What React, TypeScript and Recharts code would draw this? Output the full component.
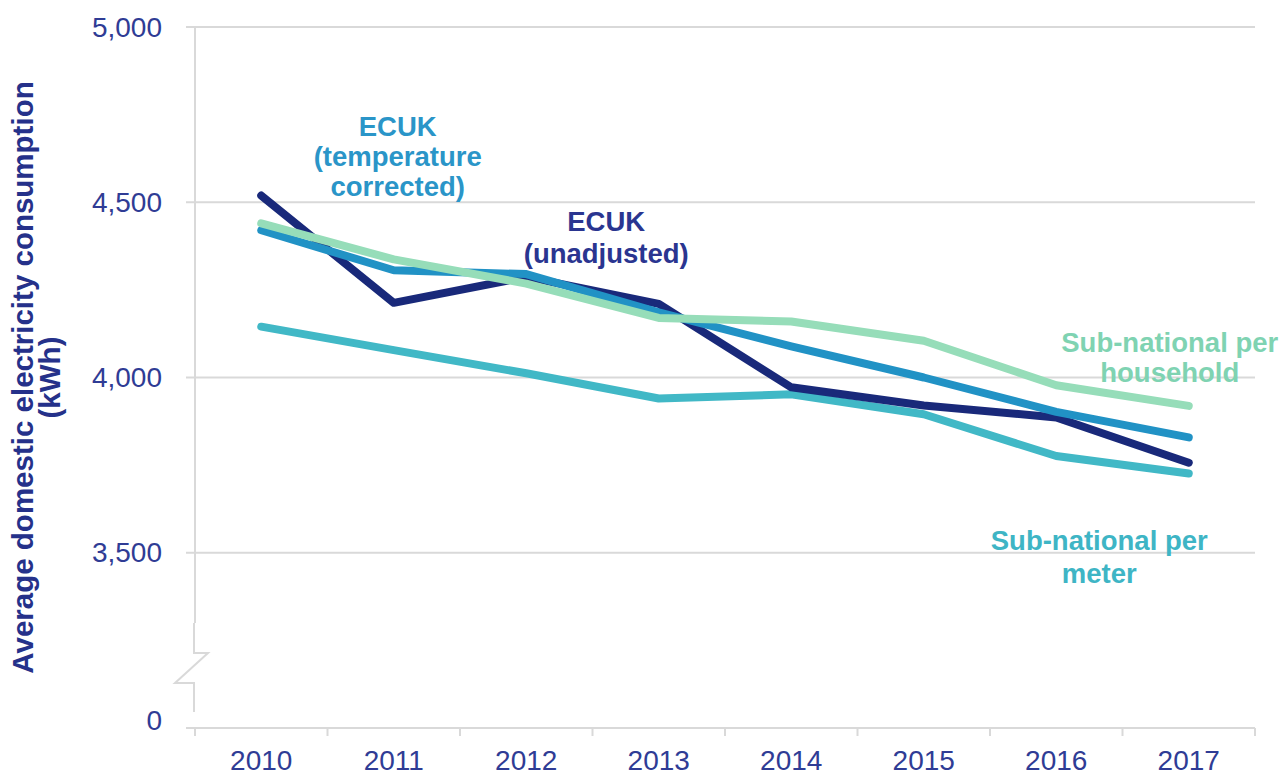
import { LineChart, Line, XAxis, YAxis, CartesianGrid, ReferenceDot } from "recharts";

// ── Chart data
const YEARS = ["2010", "2011", "2012", "2013", "2014", "2015", "2016", "2017"];
const ECUK_UNADJUSTED = [4519, 4213, 4287, 4210, 3972, 3920, 3886, 3757];
const ECUK_TEMP_CORRECTED = [4420, 4306, 4295, 4186, 4089, 4000, 3902, 3829];
const SUBNATIONAL_HOUSEHOLD = [4440, 4337, 4268, 4170, 4160, 4105, 3978, 3919];
const SUBNATIONAL_METER = [4145, 4078, 4012, 3940, 3952, 3895, 3776, 3726];

// axis is broken below 3,500: the bottom tick (3000 in chart units) is shown as "0"
const Y_TICKS = [3000, 3500, 4000, 4500, 5000];
const Y_TICK_LABELS = ["0", "3,500", "4,000", "4,500", "5,000"];

const data = YEARS.map((year, i) => ({
  year,
  unadjusted: ECUK_UNADJUSTED[i],
  tempCorrected: ECUK_TEMP_CORRECTED[i],
  household: SUBNATIONAL_HOUSEHOLD[i],
  meter: SUBNATIONAL_METER[i],
}));

// ── Layout / styles
const W = 1287;
const H = 777;
const MARGIN = { top: 27, right: 32, bottom: 0, left: 0 };
const Y_AXIS_W = 195;
const X_AXIS_H = 49;
const BAND = (W - MARGIN.right - MARGIN.left - Y_AXIS_W) / YEARS.length;
const Y_TICK_SIZE = 9;
const Y_TICK_MARGIN = 24;

const FONT = "'Liberation Sans', Arial, sans-serif";
const GRID = "#d9d9d9";
const TICK_COLOR = "#2f3c95";
const NAVY = "#19297a";
const BLUE = "#2192c5";
const GREEN = "#96ddb9";
const TEAL = "#41b8c6";

function XTick({ x, y, payload, index }: any) {
  const half = BAND / 2;
  return (
    <g>
      <line x1={x - half} x2={x - half} y1={y} y2={y + 8} stroke={GRID} strokeWidth={2} />
      {index === YEARS.length - 1 && (
        <line x1={x + half} x2={x + half} y1={y} y2={y + 8} stroke={GRID} strokeWidth={2} />
      )}
      <text x={x} y={y + 42} textAnchor="middle" fontSize={28} fontFamily={FONT} fill={TICK_COLOR}>
        {payload.value}
      </text>
    </g>
  );
}

function YTick({ x, y, payload }: any) {
  const idx = Y_TICKS.indexOf(payload.value);
  const isBottom = payload.value === Y_TICKS[0];
  const ax = x + Y_TICK_SIZE + Y_TICK_MARGIN - 1;
  return (
    <g>
      {isBottom && (
        <g>
          {/* axis break */}
          <rect x={ax - 4} y={y - 105} width={8} height={104} fill="#fff" />
          <polyline
            points={`${ax},${y - 105} ${ax},${y - 75} ${ax + 14},${y - 75} ${ax - 19},${y - 45} ${ax},${y - 45} ${ax},${y - 16}`}
            fill="none"
            stroke={GRID}
            strokeWidth={2}
          />
        </g>
      )}
      <text
        x={x}
        y={isBottom ? y - 8 : y}
        textAnchor="end"
        dominantBaseline="central"
        fontSize={28}
        fontFamily={FONT}
        fill={TICK_COLOR}
      >
        {Y_TICK_LABELS[idx]}
      </text>
    </g>
  );
}

const renderYLabel = ({ viewBox }: any) => {
  const cy = viewBox.y + viewBox.height / 2;
  return (
    <g transform={`translate(22, ${cy}) rotate(-90)`}>
      <text x={0} y={0} textAnchor="middle" dominantBaseline="central" fontSize={29.5} fontWeight={700} fontFamily={FONT} fill="#25318a">
        Average domestic electricity consumption
      </text>
      <text x={0} y={27} textAnchor="middle" dominantBaseline="central" fontSize={29.5} fontWeight={700} fontFamily={FONT} fill="#25318a">
        (kWh)
      </text>
    </g>
  );
};

// multi-line annotation centred on a reference point
const annotation = (lines: string[], color: string, dx: number, lineH: number) => ({ viewBox }: any) => {
  const cx = viewBox.x + viewBox.width / 2 + dx;
  const cy = viewBox.y + viewBox.height / 2;
  const start = cy - ((lines.length - 1) * lineH) / 2;
  return (
    <g>
      {lines.map((t, i) => (
        <text
          key={i}
          x={cx}
          y={start + i * lineH}
          textAnchor="middle"
          dominantBaseline="central"
          fontSize={27.5}
          fontWeight={700}
          fontFamily={FONT}
          fill={color}
        >
          {t}
        </text>
      ))}
    </g>
  );
};

export default function App() {
  return (
    <div style={{ position: "absolute", left: 0, top: 0, background: "#fff" }}>
      <LineChart width={W} height={H} data={data} margin={MARGIN}>
        <CartesianGrid vertical={false} stroke={GRID} strokeWidth={2} />
        <YAxis
          width={Y_AXIS_W}
          domain={[Y_TICKS[0], Y_TICKS[Y_TICKS.length - 1]]}
          ticks={Y_TICKS}
          allowDataOverflow
          axisLine={{ stroke: GRID, strokeWidth: 2 }}
          tickLine={{ stroke: GRID, strokeWidth: 2 }}
          tickSize={Y_TICK_SIZE}
          tickMargin={Y_TICK_MARGIN}
          tick={<YTick />}
          label={renderYLabel}
        />
        <XAxis
          dataKey="year"
          scale="band"
          height={X_AXIS_H}
          axisLine={{ stroke: GRID, strokeWidth: 2 }}
          tickLine={false}
          tickSize={0}
          tickMargin={0}
          interval={0}
          tick={<XTick />}
        />
        <Line dataKey="meter" stroke={TEAL} strokeWidth={8} strokeLinecap="round" strokeLinejoin="round" dot={false} activeDot={false} isAnimationActive={false} />
        <Line dataKey="unadjusted" stroke={NAVY} strokeWidth={8} strokeLinecap="round" strokeLinejoin="round" dot={false} activeDot={false} isAnimationActive={false} />
        <Line dataKey="tempCorrected" stroke={BLUE} strokeWidth={8} strokeLinecap="round" strokeLinejoin="round" dot={false} activeDot={false} isAnimationActive={false} />
        <Line dataKey="household" stroke={GREEN} strokeWidth={8} strokeLinecap="round" strokeLinejoin="round" dot={false} activeDot={false} isAnimationActive={false} />

        <ReferenceDot x="2011" y={4630} r={0} fill="none" stroke="none" ifOverflow="visible"
          label={annotation(["ECUK", "(temperature", "corrected)"], "#2a95c8", 4, 30)} />
        <ReferenceDot x="2012" y={4400} r={0} fill="none" stroke="none" ifOverflow="visible"
          label={annotation(["ECUK", "(unadjusted)"], "#2a3590", 80, 32)} />
        <ReferenceDot x="2017" y={4058} r={0} fill="none" stroke="none" ifOverflow="visible"
          label={annotation(["Sub-national per", "household"], "#7fd3b2", -19, 30)} />
        <ReferenceDot x="2016" y={3489} r={0} fill="none" stroke="none" ifOverflow="visible"
          label={annotation(["Sub-national per", "meter"], "#3eb5c5", 43, 33)} />
      </LineChart>
    </div>
  );
}
